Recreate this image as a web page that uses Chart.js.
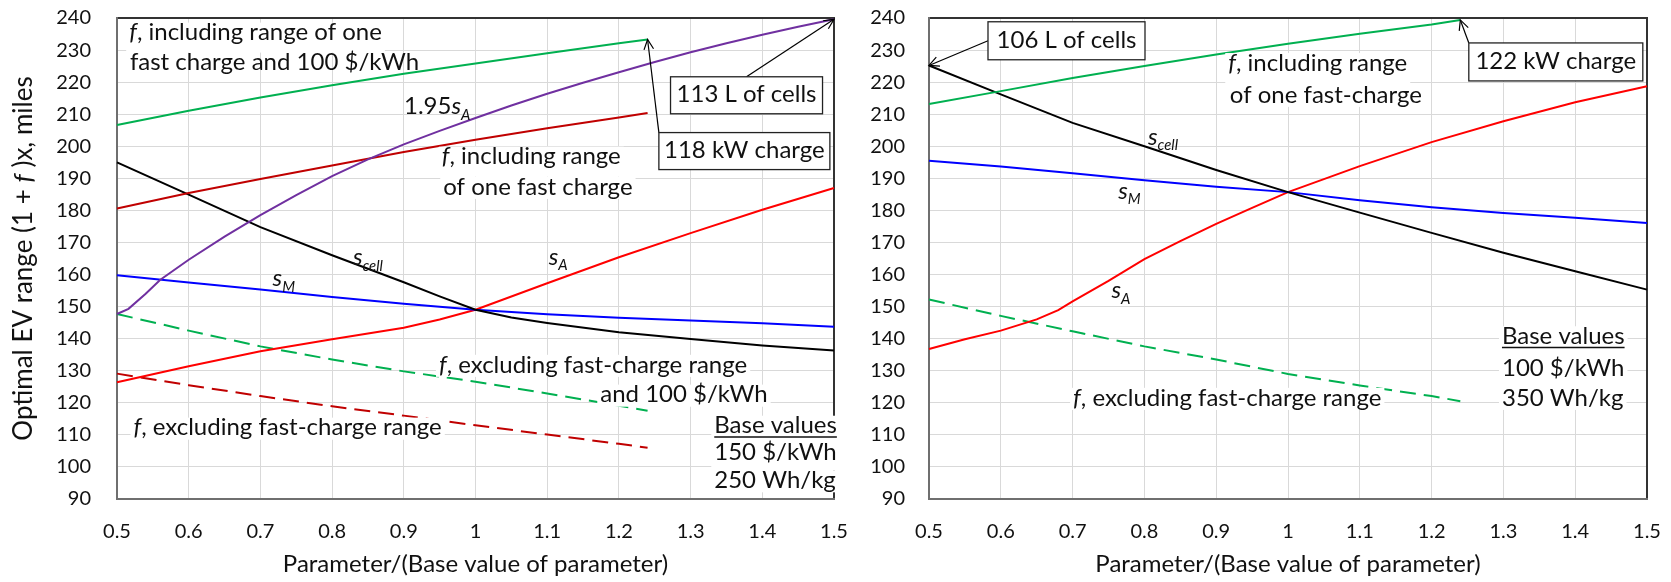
<!DOCTYPE html>
<html>
<head>
<meta charset="utf-8">
<script src="https://cdn.jsdelivr.net/npm/chart.js@4.4.1/dist/chart.umd.min.js"></script>
<style>
html,body{margin:0;padding:0;background:#fff;}
#wrap{position:relative;width:1671px;height:582px;overflow:hidden;}
canvas{position:absolute;left:0;top:0;}
</style>
</head>
<body>
<div id="wrap">
<canvas id="c1" width="1671" height="582"></canvas>
<canvas id="c2" width="1671" height="582"></canvas>
</div>
<script>
// ---------- data ----------
const xTickLabels = ['0.5','0.6','0.7','0.8','0.9','1','1.1','1.2','1.3','1.4','1.5'];
const yTickLabels = ['90','100','110','120','130','140','150','160','170','180','190','200','210','220','230','240'];

const xFull  = [0.5,0.6,0.7,0.8,0.9,1.0,1.1,1.2,1.3,1.4,1.5];
const xShort = [0.5,0.6,0.7,0.8,0.9,1.0,1.1,1.2,1.24];
const xPurpleL = [0.5,0.516,0.54,0.56,0.6,0.65,0.7,0.75,0.8,0.85,0.9,0.95,1.0,1.05,1.1,1.15,1.2,1.25,1.3,1.35,1.4,1.45,1.5];
const xBlackL = [0.5,0.6,0.7,0.8,0.9,0.95,1.0,1.05,1.1,1.2,1.3,1.4,1.5];
const xRedL = [0.5,0.6,0.7,0.8,0.9,0.95,1.0,1.1,1.2,1.3,1.4,1.5];
const xRedR = [0.5,0.55,0.6,0.65,0.68,0.7,0.75,0.8,0.85,0.9,0.95,1.0,1.1,1.2,1.3,1.4,1.5];

// left chart (base 150 $/kWh, 250 Wh/kg)
const fIncl100L = [206.6,211.1,215.2,219.0,222.6,225.8,229.0,232.1,233.3];
const fInclL    = [180.6,185.4,189.8,194.0,198.2,202.0,205.6,209.0,210.4];
const sA195L    = [147.7,149.3,154.0,158.3,164.6,171.8,178.5,184.8,190.7,195.9,200.6,204.8,208.8,212.7,216.4,219.8,223.1,226.3,229.3,232.1,234.8,237.3,239.6];
const sCellL    = [195.0,184.9,174.8,166.0,157.6,153.2,149.0,146.6,144.9,142.0,139.9,137.9,136.3];
const sML       = [159.8,157.5,155.3,153.0,150.9,149.0,147.6,146.5,145.7,144.8,143.7];
const sAL       = [126.4,131.4,136.1,139.8,143.4,146.0,149.0,157.3,165.4,172.9,180.2,187.0];
const fExcl100L = [147.7,142.5,137.6,133.5,129.8,126.6,122.9,119.1,117.5];
const fExclL    = [129.1,125.5,122.1,118.9,116.0,113.0,110.1,107.2,106.0];

// right chart (base 100 $/kWh, 350 Wh/kg)
const fInclR  = [213.2,217.2,221.3,225.0,228.6,232.0,235.1,238.0,239.4];
const sCellR  = [225.2,216.2,207.3,200.0,192.6,185.7,179.3,173.0,166.8,161.0,155.3];
const sMR     = [195.5,193.7,191.6,189.4,187.4,185.7,183.2,181.0,179.2,177.7,176.1];
const sAR     = [136.8,139.8,142.5,146.0,148.9,151.6,158.0,164.8,170.4,175.8,180.8,185.7,193.8,201.3,207.8,213.7,218.7];
const fExclR  = [152.2,147.1,142.3,137.6,133.5,129.0,125.4,122.1,120.5];

// ---------- helpers ----------
const FONT = 'Lato, "DejaVu Sans", sans-serif';
const TEXT = '#111';
const pts = (xs, ys) => xs.map((x, i) => ({x: x, y: ys[i]}));
const last = a => a[a.length - 1];

function setFont(ctx, style, size){ ctx.font = (style.indexOf('i') >= 0 ? 'italic ' : '') + size + 'px ' + FONT; }
function partSize(style, size){ return style.indexOf('sub') >= 0 ? size * 0.62 : size; }
function richWidth(ctx, parts, size){
  let w = 0;
  for (const [t, s] of parts){ setFont(ctx, s, partSize(s, size)); w += ctx.measureText(t).width; }
  return w;
}
function drawRich(ctx, parts, x, cy, size, align, bg, underline, bgH){
  const w = richWidth(ctx, parts, size);
  const left = align === 'center' ? x - w / 2 : (align === 'right' ? x - w : x);
  const base = cy + 0.33 * size;
  if (bg){ ctx.fillStyle = '#fff'; ctx.fillRect(left - 3, base - 0.74 * size, w + 6, (bgH || 0.92) * size); }
  ctx.fillStyle = TEXT; ctx.textBaseline = 'alphabetic'; ctx.textAlign = 'left';
  let cx = left;
  for (const [t, s] of parts){
    const sz = partSize(s, size); setFont(ctx, s, sz);
    const dy = s.indexOf('sub') >= 0 ? 0.22 * size : 0;
    ctx.fillText(t, cx, base + dy);
    cx += ctx.measureText(t).width;
  }
  if (underline){
    ctx.strokeStyle = TEXT; ctx.lineWidth = 1.5; ctx.beginPath();
    ctx.moveTo(left, base + 3.5); ctx.lineTo(left + w, base + 3.5); ctx.stroke();
  }
}
function arrow(ctx, x1, y1, x2, y2){
  ctx.strokeStyle = '#000'; ctx.lineWidth = 1.2;
  ctx.beginPath(); ctx.moveTo(x1, y1); ctx.lineTo(x2, y2); ctx.stroke();
  const a = Math.atan2(y2 - y1, x2 - x1), L = 11, ang = 0.45;
  ctx.beginPath();
  ctx.moveTo(x2 - L * Math.cos(a - ang), y2 - L * Math.sin(a - ang));
  ctx.lineTo(x2, y2);
  ctx.lineTo(x2 - L * Math.cos(a + ang), y2 - L * Math.sin(a + ang));
  ctx.stroke();
}

function makeAnnot(items, yTitle){
  return {
    id: 'annot',
    beforeDatasetsDraw(chart){
      const ctx = chart.ctx, ca = chart.chartArea;
      ctx.save(); ctx.lineWidth = 2;
      ctx.strokeStyle = '#333';
      ctx.beginPath(); ctx.moveTo(ca.left, ca.top); ctx.lineTo(ca.right, ca.top); ctx.lineTo(ca.right, ca.bottom); ctx.stroke();
      ctx.strokeStyle = '#6f6f6f';
      ctx.beginPath(); ctx.moveTo(ca.left, ca.top - 1); ctx.lineTo(ca.left, ca.bottom); ctx.lineTo(ca.right + 1, ca.bottom); ctx.stroke();
      ctx.restore();
    },
    afterDraw(chart){
      const ctx = chart.ctx, sx = chart.scales.x, sy = chart.scales.y, ca = chart.chartArea;
      ctx.save();
      for (const it of items){
        const px = sx.getPixelForValue(it.at[0]), py = sy.getPixelForValue(it.at[1]);
        if (it.kind === 'text'){
          drawRich(ctx, it.parts, px, py, it.size || 24, it.align || 'left', it.bg !== false, it.underline, it.bgH);
        } else if (it.kind === 'box'){
          const l = px - it.w / 2, t = py - it.h / 2;
          const tx = sx.getPixelForValue(it.to[0]), ty = sy.getPixelForValue(it.to[1]);
          arrow(ctx, l + it.from[0] * it.w, t + it.from[1] * it.h, tx, ty);
          ctx.fillStyle = '#fff'; ctx.fillRect(l, t, it.w, it.h);
          ctx.strokeStyle = '#222'; ctx.lineWidth = 1.3; ctx.strokeRect(l, t, it.w, it.h);
          drawRich(ctx, [[it.text, '']], px, py - 1, 24, 'center', false);
        }
      }
      if (yTitle){
        ctx.save();
        ctx.translate(23, (ca.top + ca.bottom) / 2);
        ctx.rotate(-Math.PI / 2);
        drawRich(ctx, yTitle, 0, 0, 26, 'center', false);
        ctx.restore();
      }
      ctx.restore();
    }
  };
}

function ds(xs, ys, color, dashed){
  return {data: pts(xs, ys), borderColor: color, borderWidth: 2, borderDash: dashed ? [16, 8] : [],
          pointRadius: 0, tension: 0, fill: false, clip: 4};
}

function makeOptions(padLeft, padRight, yWidth, yPad){
  return {
    responsive: false, animation: false, devicePixelRatio: 1,
    layout: {padding: {left: padLeft, right: padRight, top: 18, bottom: 0}},
    plugins: {legend: {display: false}, tooltip: {enabled: false}},
    scales: {
      x: {
        type: 'linear', min: 0.5, max: 1.5,
        grid: {color: '#d9d9d9', lineWidth: 1, drawTicks: false},
        border: {display: false},
        ticks: {stepSize: 0.1, autoSkip: false, maxRotation: 0, padding: 21, color: TEXT,
                font: {family: FONT, size: 20},
                callback: v => xTickLabels[Math.round((v - 0.5) * 10)]},
        title: {display: true, text: 'Parameter/(Base value of parameter)', color: TEXT,
                font: {family: FONT, size: 24}, padding: {top: 0, bottom: 3}},
        afterFit: s => { s.height = 83; s.paddingLeft = 0; s.paddingRight = 0; }
      },
      y: {
        type: 'linear', min: 90, max: 240,
        grid: {color: '#d9d9d9', lineWidth: 1, drawTicks: false},
        border: {display: false},
        ticks: {stepSize: 10, padding: yPad, color: TEXT, font: {family: FONT, size: 20},
                callback: v => yTickLabels[Math.round((v - 90) / 10)]},
        afterFit: s => { s.width = yWidth; s.paddingTop = 0; s.paddingBottom = 0; }
      }
    }
  };
}

// ---------- left chart ----------
const annotL = [
  {kind: 'text', at: [0.517, 235.5], parts: [['f', 'i'], [', including range of one', '']], bgH: 1.25},
  {kind: 'text', at: [0.518, 226.1], parts: [['fast charge and 100 $/kWh', '']], bg: false},
  {kind: 'text', at: [0.9003, 212.4], parts: [['1.95', ''], ['s', 'i'], ['A', 'isub']], bg: false},
  {kind: 'text', at: [0.953, 196.8], parts: [['f', 'i'], [', including range', '']], bgH: 1.25},
  {kind: 'text', at: [0.955, 187.4], parts: [['of one fast charge', '']]},
  {kind: 'text', at: [0.829, 165.3], parts: [['s', 'i'], ['cell', 'isub']], bg: false},
  {kind: 'text', at: [0.717, 158.8], parts: [['s', 'i'], ['M', 'isub']], bg: false},
  {kind: 'text', at: [1.102, 165.5], parts: [['s', 'i'], ['A', 'isub']], bg: false},
  {kind: 'text', at: [0.949, 131.9], parts: [['f', 'i'], [', excluding fast-charge range', '']]},
  {kind: 'text', at: [1.174, 122.6], parts: [['and 100 $/kWh', '']]},
  {kind: 'text', at: [0.523, 112.3], parts: [['f', 'i'], [', excluding fast-charge range', '']]},
  {kind: 'text', at: [1.333, 112.9], parts: [['Base values', '']], underline: true, bgH: 1.17},
  {kind: 'text', at: [1.333, 104.6], parts: [['150 $/kWh', '']], bgH: 1.17},
  {kind: 'text', at: [1.333, 95.9], parts: [['250 Wh/kg', '']]},
  {kind: 'box', at: [1.378, 215.9], w: 152, h: 37, text: '113 L of cells', from: [0.5, 0], to: [last(xPurpleL), last(sA195L)]},
  {kind: 'box', at: [1.375, 198.5], w: 171, h: 37, text: '118 kW charge', from: [0, 0], to: [last(xShort), last(fIncl100L)]}
];

new Chart(document.getElementById('c1'), {
  type: 'line',
  data: {datasets: [
    ds(xShort, fIncl100L, '#00b050'),
    ds(xPurpleL, sA195L, '#7030a0'),
    ds(xShort, fInclL, '#c00000'),
    ds(xBlackL, sCellL, '#000000'),
    ds(xFull, sML, '#0000ff'),
    ds(xRedL, sAL, '#ff0000'),
    ds(xShort, fExcl100L, '#00b050', true),
    ds(xShort, fExclL, '#c00000', true)
  ]},
  options: makeOptions(0, 1671 - 834, 117, 26),
  plugins: [makeAnnot(annotL, [['Optimal EV range (1 + ', ''], ['f', 'i'], [' )x, miles', '']])]
});

// ---------- right chart ----------
const annotR = [
  {kind: 'box', at: [0.6915, 232.9], w: 157, h: 38, text: '106 L of cells', from: [0, 0.5], to: [xFull[0], sCellR[0]]},
  {kind: 'text', at: [0.9168, 226.0], parts: [['f', 'i'], [', including range', '']], bgH: 1.35},
  {kind: 'text', at: [0.919, 216.1], parts: [['of one fast-charge', '']]},
  {kind: 'box', at: [1.373, 226.3], w: 174, h: 38, text: '122 kW charge', from: [0, 0], to: [last(xShort), last(fInclR)]},
  {kind: 'text', at: [0.805, 202.9], parts: [['s', 'i'], ['cell', 'isub']], bg: false},
  {kind: 'text', at: [0.7635, 186.0], parts: [['s', 'i'], ['M', 'isub']], bg: false},
  {kind: 'text', at: [0.7542, 155.0], parts: [['s', 'i'], ['A', 'isub']], bg: false},
  {kind: 'text', at: [0.7007, 121.6], parts: [['f', 'i'], [', excluding fast-charge range', '']]},
  {kind: 'text', at: [1.298, 140.8], parts: [['Base values', '']], underline: true, bgH: 1.36},
  {kind: 'text', at: [1.298, 130.9], parts: [['100 $/kWh', '']], bgH: 1.3},
  {kind: 'text', at: [1.298, 121.6], parts: [['350 Wh/kg', '']]}
];

new Chart(document.getElementById('c2'), {
  type: 'line',
  data: {datasets: [
    ds(xShort, fInclR, '#00b050'),
    ds(xFull, sCellR, '#000000'),
    ds(xFull, sMR, '#0000ff'),
    ds(xRedR, sAR, '#ff0000'),
    ds(xShort, fExclR, '#00b050', true)
  ]},
  options: makeOptions(840, 1671 - 1647, 89, 24),
  plugins: [makeAnnot(annotR, null)]
});
</script>
</body>
</html>
